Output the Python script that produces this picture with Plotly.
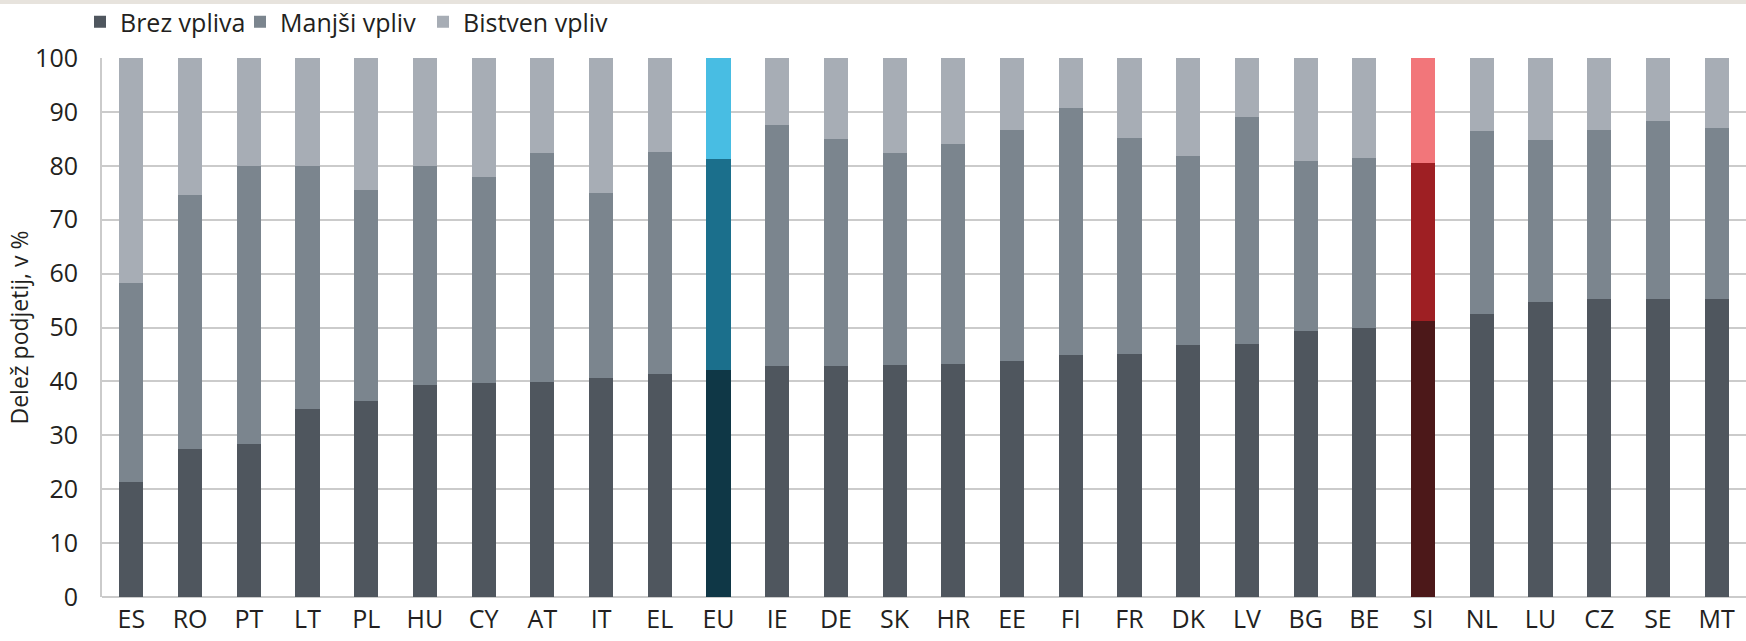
import plotly.graph_objects as go

countries = ["ES", "RO", "PT", "LT", "PL", "HU", "CY", "AT", "IT", "EL", "EU", "IE", "DE", "SK",
             "HR", "EE", "FI", "FR", "DK", "LV", "BG", "BE", "SI", "NL", "LU", "CZ", "SE", "MT"]
# Cumulative tops
brez_vpliva = [21.4, 27.5, 28.3, 34.8, 36.3, 39.3, 39.7, 39.8, 40.6, 41.4, 42.1, 42.8, 42.8, 43.0,
               43.2, 43.8, 44.9, 45.0, 46.7, 47.0, 49.3, 50.0, 51.2, 52.5, 54.7, 55.2, 55.2, 55.3]
top_manjsi = [58.3, 74.5, 79.9, 79.9, 75.6, 79.9, 77.9, 82.4, 74.9, 82.5, 81.2, 87.5, 85.0, 82.3,
              84.1, 86.7, 90.8, 85.2, 81.9, 89.0, 80.8, 81.5, 80.6, 86.5, 84.7, 86.7, 88.4, 87.0]
manjsi_vpliv = [round(t - b, 1) for t, b in zip(top_manjsi, brez_vpliva)]
bistven_vpliv = [round(100 - t, 1) for t in top_manjsi]

series_names = ["Brez vpliva", "Manjši vpliv", "Bistven vpliv"]
base_colors = ["#4f565e", "#7b858e", "#a7adb5"]
eu_colors = ["#0f3746", "#1b6f8c", "#48bde3"]
si_colors = ["#4c1819", "#9e1f23", "#f2767a"]
legend_widths = [115, 138, None]

font_family = "Open Sans, Noto Sans, sans-serif"
text_color = "#231f20"

fig = go.Figure()
for i, (name, vals) in enumerate(zip(series_names, [brez_vpliva, manjsi_vpliv, bistven_vpliv])):
    colors = []
    for c in countries:
        if c == "EU":
            colors.append(eu_colors[i])
        elif c == "SI":
            colors.append(si_colors[i])
        else:
            colors.append(base_colors[i])
    fig.add_trace(go.Bar(
        x=countries, y=vals, name=name,
        marker=dict(color=colors, line=dict(width=0)),
        width=0.41,
        legendwidth=legend_widths[i],
    ))

fig.update_layout(
    barmode="stack",
    width=1746, height=641,
    margin=dict(l=102, r=0, t=58, b=44, autoexpand=False),
    paper_bgcolor="white", plot_bgcolor="white",
    font=dict(family=font_family, size=25, color=text_color),
    showlegend=True,
    legend=dict(
        orientation="h", xref="container", x=80 / 1746, xanchor="left",
        yref="container", y=1 - 22 / 641, yanchor="middle",
        font=dict(size=25, color=text_color), traceorder="normal",
        itemwidth=30, tracegroupgap=0, bgcolor="rgba(0,0,0,0)",
    ),
    xaxis=dict(
        range=[-0.5, 27.5], showgrid=False, showline=False, ticks="",
        tickfont=dict(size=25), ticklabelstandoff=5, fixedrange=True,
    ),
    yaxis=dict(
        range=[0, 100], dtick=10, tick0=0, showgrid=True, gridcolor="#cbcbcb", gridwidth=2,
        zeroline=True, zerolinecolor="#cbcbcb", zerolinewidth=2,
        showline=True, linecolor="#cbcbcb", linewidth=2,
        ticks="", ticklabelstandoff=17, tickfont=dict(size=25),
        title=dict(text="Delež podjetij, v %", font=dict(size=23), standoff=0),
    ),
    shapes=[dict(type="rect", xref="paper", yref="paper", x0=-0.07, x1=1.0,
                 y0=1 + 54 / 539, y1=1 + 60 / 539, fillcolor="#e7e3dd",
                 line=dict(width=0), layer="below")],
)

fig.write_html("out.html", config={"displayModeBar": False},
               post_script="document.body.style.margin='0';document.body.style.overflow='hidden';")
